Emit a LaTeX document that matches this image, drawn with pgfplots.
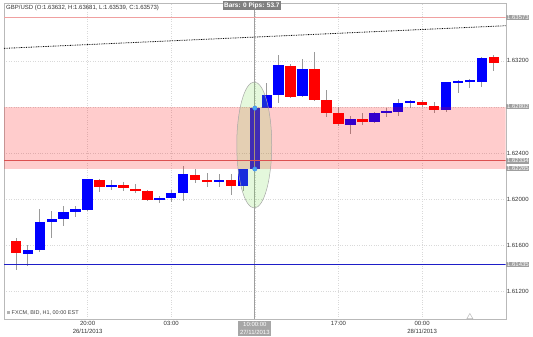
\documentclass[border=0pt]{standalone}
\usepackage{fontspec}
\setmainfont{Liberation Sans}
\usepackage{pgfplots}
\usepackage{pgfplotstable}
\pgfplotsset{compat=1.18}
\definecolor{cblue}{HTML}{0000FF}
\definecolor{cred}{HTML}{FF0000}
\definecolor{wick}{HTML}{9A9A9A}
\definecolor{lblue}{HTML}{4AA8F0}
\definecolor{egreen}{RGB}{120,220,80}

\pgfplotstableread{
k O H L C
-6 1.61636 1.61666 1.61392 1.61536
-5 1.61530 1.61608 1.61420 1.61565
-4 1.61556 1.61919 1.61540 1.61800
-3 1.61800 1.61895 1.61666 1.61830
-2 1.61832 1.61939 1.61772 1.61890
-1 1.61890 1.61945 1.61847 1.61913
0 1.61904 1.62175 1.61895 1.62172
1 1.62169 1.62175 1.62060 1.62103
2 1.62105 1.62169 1.62083 1.62120
3 1.62123 1.62149 1.62068 1.62100
4 1.62094 1.62132 1.62055 1.62074
5 1.62074 1.62078 1.61982 1.61996
6 1.61996 1.62025 1.61968 1.62010
7 1.62008 1.62083 1.61973 1.62054
8 1.62054 1.62290 1.61982 1.62215
9 1.62215 1.62262 1.62141 1.62167
10 1.62163 1.62227 1.62106 1.62146
11 1.62149 1.62218 1.62103 1.62167
12 1.62167 1.62218 1.62040 1.62118
13 1.62118 1.62265 1.62068 1.62262
14 1.62262 1.62802 1.62255 1.62789
15 1.62789 1.63005 1.62789 1.62904
16 1.62904 1.63249 1.62832 1.63160
17 1.63160 1.63170 1.62880 1.62889
18 1.62895 1.63212 1.62890 1.63131
19 1.63126 1.63278 1.62850 1.62860
20 1.62860 1.62947 1.62716 1.62751
21 1.62745 1.62803 1.62636 1.62650
22 1.62644 1.62722 1.62567 1.62696
23 1.62696 1.62746 1.62642 1.62668
24 1.62670 1.62759 1.62660 1.62751
25 1.62751 1.62789 1.62711 1.62765
26 1.62759 1.62866 1.62722 1.62837
27 1.62837 1.62860 1.62791 1.62851
28 1.62846 1.62860 1.62803 1.62817
29 1.62809 1.62846 1.62751 1.62774
30 1.62774 1.63013 1.62760 1.63013
31 1.63013 1.63030 1.62918 1.63027
32 1.63022 1.63040 1.62967 1.63036
33 1.63019 1.63232 1.62975 1.63226
34 1.63229 1.63249 1.63114 1.63183
}\candles

\begin{document}
\begin{tikzpicture}
\useasboundingbox (-4pt,-17.7pt) rectangle (529pt,319.3pt);
\begin{axis}[
  at={(0,0)}, anchor=south west,
  scale only axis, width=501.7pt, height=316.3pt,
  xmin=-7, xmax=35, ymin=1.6096, ymax=1.6370,
  clip mode=individual,
  axis line style={draw=gray!55},
  major tick length=0pt, tick style={draw=none},
  xtick={0,7,14,21,28},
  xticklabels={{20:00\\26/11/2013},{03:00},{},{17:00},{00:00\\28/11/2013}},
  xticklabel style={align=center, font=\fontsize{6}{8}\selectfont, text=black!80, inner sep=1pt, yshift=-0.5pt},
  ytick={1.612,1.616,1.620,1.624,1.628,1.632},
  yticklabels={1.61200,1.61600,1.62000,1.62400,{},1.63200},
  yticklabel pos=right,
  yticklabel style={font=\fontsize{6}{7}\selectfont, text=black!80, anchor=west, inner sep=1pt},
  extra y ticks={1.63573,1.62802,1.62334,1.62265,1.61435},
  extra y tick labels={1.63573,1.62802,1.62334,1.62265,1.61435},
  extra y tick style={grid=none, yticklabel style={font=\fontsize{6}{7}\selectfont, fill=gray!75, text=white, inner sep=0.7pt, xshift=0.5pt}},
  grid=major, grid style={gray!30, dotted},
]
% wicks
\addplot[draw=none, no markers, error bars/.cd, y dir=both, y explicit, error mark=none,
  error bar style={line width=0.8pt, draw=wick}]
  table[x=k, y expr={(\thisrow{H}+\thisrow{L})/2}, y error expr={(\thisrow{H}-\thisrow{L})/2}] {\candles};
% blue bodies
\addplot[draw=none, no markers, restrict expr to domain={\thisrow{C}-\thisrow{O}}{0:1},
  error bars/.cd, y dir=both, y explicit, error mark=none,
  error bar style={line width=10.5pt, draw=cblue}]
  table[x=k, y expr={(\thisrow{O}+\thisrow{C})/2}, y error expr={abs(\thisrow{C}-\thisrow{O})/2}] {\candles};
% red bodies
\addplot[draw=none, no markers, restrict expr to domain={\thisrow{O}-\thisrow{C}}{0:1},
  error bars/.cd, y dir=both, y explicit, error mark=none,
  error bar style={line width=10.5pt, draw=cred}]
  table[x=k, y expr={(\thisrow{O}+\thisrow{C})/2}, y error expr={abs(\thisrow{C}-\thisrow{O})/2}] {\candles};
% cursor line
\addplot[gray!75, line width=0.8pt] coordinates {(14,1.6096) (14,1.6370)};
% pink zone
\addplot[draw=none, fill=red, fill opacity=0.2] coordinates {(-7,1.62265) (35,1.62265) (35,1.62802) (-7,1.62802)} -- cycle;
% ellipse highlight
\draw[draw=gray!70, line width=0.5pt, fill=egreen, fill opacity=0.2] (axis cs:13.95,1.62470) ellipse [x radius=17.5pt, y radius=63pt];
% horizontal lines
\addplot[color={rgb,255:red,240;green,160;blue,160}, line width=0.6pt] coordinates {(-7,1.63573) (35,1.63573)};
\addplot[color={rgb,255:red,220;green,80;blue,80}, line width=0.6pt] coordinates {(-7,1.62334) (35,1.62334)};
\addplot[color={rgb,255:red,30;green,30;blue,200}, line width=0.9pt] coordinates {(-7,1.61435) (35,1.61435)};
% trend line
\addplot[black, line width=0.8pt, dash pattern=on 0.8pt off 0.9pt] coordinates {(-7,1.63307) (35,1.63503)};
% blue anchor dots
\addplot[only marks, mark=*, mark size=2.2pt, mark options={fill=lblue, draw=lblue!80!blue}] coordinates {(14,1.62789) (14,1.62262)};
% triangle
\addplot[only marks, mark=triangle, mark size=3.5pt, mark options={draw=gray!55, line width=0.5pt}] coordinates {(32,1.60980)};
% texts
\node[anchor=north west, font=\fontsize{6}{7}\selectfont, text=black!80, inner sep=1pt] at (rel axis cs:0,1) [xshift=1pt, yshift=-0.5pt] {GBP/USD (O:1.63632, H:1.63681, L:1.63539, C:1.63573)};
\node[fill=gray!100, text=white, font=\fontsize{6.5}{7.5}\selectfont\bfseries, inner sep=1.1pt] at (axis cs:14,1.6370) [xshift=-3pt, yshift=-2.5pt] {Bars: 0 Pips: 53.7};
\node[anchor=south west, font=\fontsize{5.5}{6.5}\selectfont, text=black!75, inner sep=1pt] at (rel axis cs:0,0) [xshift=2pt, yshift=3pt] {\textcolor{gray!60}{\rule{3pt}{3pt}}\ FXCM, BID, H1, 00:00 EST};
\node[anchor=north, fill=gray!70, text=white, align=center, font=\fontsize{6}{7.5}\selectfont, inner sep=1.8pt] at (axis cs:14,1.6096) [yshift=-1.3pt] {10:00:00\\27/11/2013};
\end{axis}
\end{tikzpicture}
\end{document}
